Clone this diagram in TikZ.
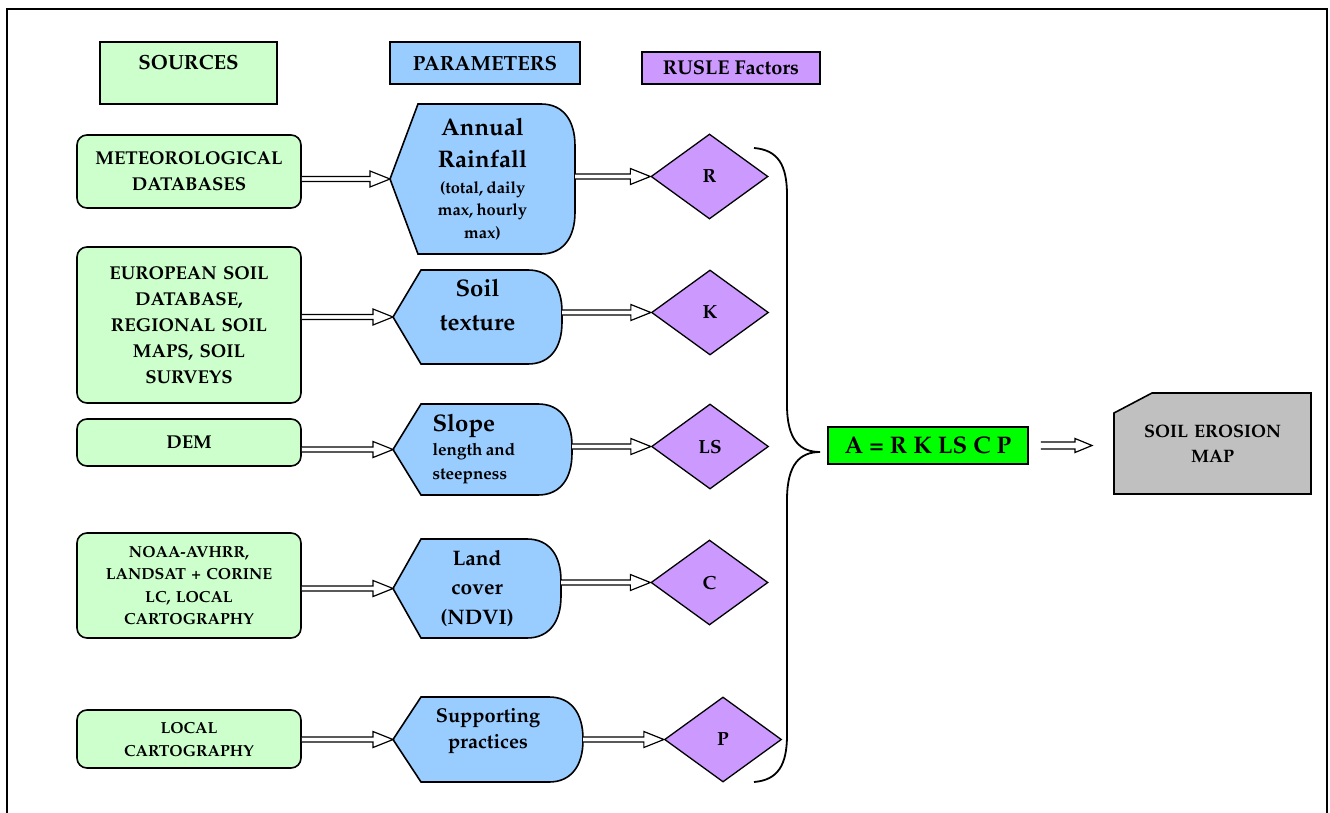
\documentclass[tikz,border=0pt]{standalone}
\usepackage[T1]{fontenc}
\usepackage{mathpazo}
\usetikzlibrary{shapes.geometric, positioning, calc, backgrounds}
\definecolor{srcgreen}{HTML}{CCFFCC}
\definecolor{parblue}{HTML}{99CCFF}
\definecolor{facpurple}{HTML}{CC99FF}
\definecolor{eqgreen}{HTML}{00FF00}
\definecolor{mapgray}{HTML}{C0C0C0}
\tikzset{
  header/.style={
    rectangle,
    draw=black, line width=1.6pt,
    inner sep=0pt,
    font=\bfseries\fontsize{20.5}{24}\selectfont
  },
  source/.style={
    rectangle,
    rounded corners=10pt,
    draw=black, line width=1.6pt,
    fill=srcgreen,
    inner sep=0pt,
    minimum width=224pt,
    text width=214pt,
    align=center,
    font=\bfseries\fontsize{18.6}{26}\selectfont
  },
  param/.style={
    rectangle,
    inner sep=0pt, outer sep=0pt,
    text width=150pt,
    align=center,
    font=\bfseries
  },
  parshape/.style={
    draw=black, line width=1.6pt,
    fill=parblue
  },
  factor/.style={
    diamond,
    draw=black, line width=1.3pt,
    fill=facpurple,
    inner sep=0pt,
    minimum width=117pt, minimum height=85pt,
    font=\bfseries\fontsize{19}{22}\selectfont
  },
  hollow/.style n args={3}{
    draw=black, line width=1.2pt, fill=white,
    to path={($(\tikztostart)+(0,-#1)$) -- ($(\tikztotarget)+(-#3,-#1)$)
      -- ($(\tikztotarget)+(-#3,-#2)$) -- (\tikztotarget)
      -- ($(\tikztotarget)+(-#3,#2)$) -- ($(\tikztotarget)+(-#3,#1)$)
      -- ($(\tikztostart)+(0,#1)$)}
  }
}

\begin{document}
\begin{tikzpicture}[x=1pt, y=-1pt]
\useasboundingbox (0,0) rectangle (1330,813);

% frame
\draw[line width=2pt] (7,813) -- (7,9) -- (1327,9) -- (1327,813);

% headers
\node[header, fill=srcgreen, minimum width=177pt, minimum height=62pt, text depth=22pt] (hsrc) at (188.5,73) {SOURCES};
\node[header, fill=parblue, minimum width=190pt, minimum height=42pt] (hpar) at (485,63) {PARAMETERS};
\node[header, fill=facpurple, minimum width=178pt, minimum height=32pt, font=\bfseries\fontsize{20}{22}\selectfont] (hfac) at (731,68) {RUSLE Factors};

% sources
\node[source, minimum height=73pt] (s1) at (189,171.5) {METEOROLOGICAL\\DATABASES};
\node[source, minimum height=156pt] (s2) at (189,325) {EUROPEAN SOIL\\DATABASE,\\REGIONAL SOIL\\MAPS, SOIL\\SURVEYS};
\node[source, minimum height=47pt] (s3) at (189,442.5) {DEM};
\node[source, minimum height=105pt, font=\bfseries\fontsize{16}{22.5}\selectfont] (s4) at (189,585.5) {NOAA-AVHRR,\\LANDSAT + CORINE\\LC, LOCAL\\CARTOGRAPHY};
\node[source, minimum height=58pt, font=\bfseries\fontsize{16}{23}\selectfont] (s5) at (189,739) {LOCAL\\CARTOGRAPHY};

% parameters
\node[param, minimum width=185pt, minimum height=150pt] (p1) at (482.5,179)
{ {\fontsize{24}{32}\selectfont Annual\\Rainfall\par}\vspace{3pt}
  {\fontsize{16.5}{22.5}\selectfont (total, daily\\max, hourly\\max)\par} };
\node[param, minimum width=169pt, minimum height=94pt] (p2) at (477.5,317)
{ \fontsize{24}{34}\selectfont Soil\\texture\rule[-24pt]{0pt}{1pt}\par };
\node[param, minimum width=179pt, minimum height=91pt, text width=100pt, align=left] (p3) at (482.5,449.5)
{ {\fontsize{24}{30}\selectfont Slope\par}
  {\fontsize{17}{24}\selectfont length and\\steepness\par} };
\node[param, minimum width=168pt, minimum height=99pt] (p4) at (477,588.5)
{ \fontsize{21}{29.5}\selectfont Land\\cover\\(NDVI)\par };
\node[param, minimum width=190pt, minimum height=85pt] (p5) at (488,739.5)
{ \fontsize{20}{26}\selectfont Supporting\\practices\rule[-22pt]{0pt}{1pt}\par };

% factors
\node[factor] (r) at (709.5,176.5) {R};
\node[factor] (k) at (710,312.5) {K};
\node[factor] (ls) at (710,446.5) {LS};
\node[factor] (c) at (709.5,582.5) {C};
\node[factor] (pf) at (723,739.5) {P};

% equation and result
\node[rectangle, draw=black, line width=1.6pt, fill=eqgreen, minimum width=200pt, minimum height=37pt, inner sep=0pt, font=\bfseries\fontsize{24}{26}\selectfont] (eq) at (928,445.5) {A = R K LS C P};
\node[rectangle, inner sep=0pt, outer sep=0pt, minimum width=197pt, minimum height=101pt, text width=180pt, align=center, font=\bfseries\fontsize{18}{25}\selectfont] (map) at (1212.5,443.5) {SOIL EROSION\\MAP};

% shapes behind the parameter and map texts
\begin{scope}[on background layer]
\foreach \n in {p1,p2,p3,p4,p5}
  \draw[parshape] (\n.west) -- ($(\n.north west)+(28,0)$) -- ($(\n.north east)+(-34,0)$)
    .. controls ($(\n.north east)+(-12,0)$) and ($(\n.north east)+(0,16)$) .. ($(\n.north east)+(0,42)$)
    -- ($(\n.south east)+(0,-42)$)
    .. controls ($(\n.south east)+(0,-16)$) and ($(\n.south east)+(-12,0)$) .. ($(\n.south east)+(-34,0)$)
    -- ($(\n.south west)+(28,0)$) -- cycle;
\draw[parshape, fill=mapgray] ($(map.north west)+(0,20)$) -- ($(map.north west)+(38,0)$)
  -- (map.north east) -- (map.south east) -- (map.south west) -- cycle;
\end{scope}

% sources -> parameters
\draw[hollow={2.5}{8}{20}] (s1.east |- p1.west) to (p1.west);
\draw[hollow={2.5}{8}{20}] (s2.east |- p2.west) to (p2.west);
\draw[hollow={2.5}{8}{20}] (s3.east |- p3.west) to (p3.west);
\draw[hollow={2.5}{8}{20}] (s4.east |- p4.west) to (p4.west);
\draw[hollow={2.5}{8}{20}] (s5.east |- p5.west) to (p5.west);

% parameters -> factors
\draw[hollow={2.5}{8}{20}] (p1.east |- r.west) to (r.west);
\draw[hollow={2.5}{8}{20}] (p2.east |- k.west) to (k.west);
\draw[hollow={2.5}{8}{20}] (p3.east |- ls.west) to (ls.west);
\draw[hollow={2.5}{8}{20}] (p4.east |- c.west) to (c.west);
\draw[hollow={2.5}{8}{20}] (p5.east |- pf.west) to (pf.west);

% brace
\draw[line width=1.8pt] (754,148) .. controls (778,150) and (787,165) .. (787,195) -- (787,405)
  .. controls (787,440) and (800,452) .. (820,452)
  .. controls (800,452) and (787,464) .. (787,500) -- (787,735)
  .. controls (787,765) and (778,780) .. (754,782);

% equation -> map
\draw[hollow={3.5}{7}{17}] ($(eq.east)+(12,0)$) to ($(eq.east -| map.west)+(-22,0)$);

\end{tikzpicture}
\end{document}
